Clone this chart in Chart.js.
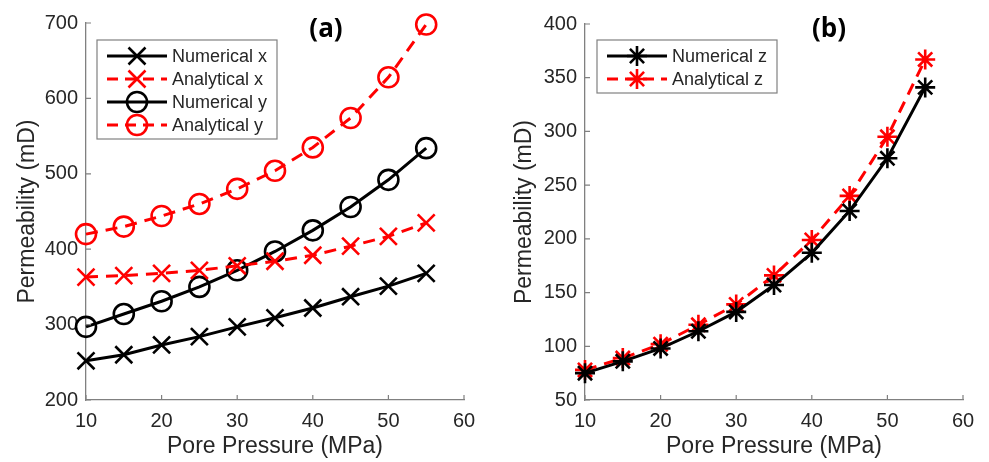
<!DOCTYPE html>
<html>
<head>
<meta charset="utf-8">
<script src="https://cdn.jsdelivr.net/npm/chart.js@4.4.1/dist/chart.umd.min.js"></script>
<style>
  html, body { margin: 0; padding: 0; background: #fff; }
  #wrap { position: relative; width: 989px; height: 462px; }
  #left { position: absolute; left: 0; top: 0; width: 490px; height: 462px; }
  #right { position: absolute; left: 490px; top: 0; width: 499px; height: 462px; }
</style>
</head>
<body>
<div id="wrap">
  <div id="left"><canvas id="chartA"></canvas></div>
  <div id="right"><canvas id="chartB"></canvas></div>
</div>
<script>
// Daten
const pressure = [10, 15, 20, 25, 30, 35, 40, 45, 50, 55];
const numericalX = [252, 260, 273, 284, 297, 309, 322, 337, 351, 368];
const analyticalX = [363, 365, 368, 372, 378, 384, 392, 404, 417, 435];
const numericalY = [297, 314, 331, 350, 372, 397, 425, 456, 492, 534];
const analyticalY = [420, 430, 444, 460, 480, 504, 535, 574, 628, 698];
const numericalZ = [75, 86, 98, 114, 132, 157, 187, 226, 275, 341];
const analyticalZ = [78, 89, 102, 120, 139, 166, 199, 240, 295, 367];

const xTicks = [10, 20, 30, 40, 50, 60];
const yTicksA = [200, 300, 400, 500, 600, 700];
const yTicksB = [50, 100, 150, 200, 250, 300, 350, 400];

const textColor = '#262626';
const axisColor = '#808080';
const fontName = '"Liberation Sans", Arial, Helvetica, sans-serif';

function pts(ys) {
  return pressure.map((p, i) => ({ x: p, y: ys[i] }));
}

function serie(label, ys, color, dashed, style, radius) {
  return {
    label: label,
    data: pts(ys),
    borderColor: color,
    borderWidth: 3,
    borderDash: dashed ? [12, 8] : [],
    pointStyle: style,
    pointRadius: radius,
    pointBorderWidth: 2.6,
    pointBorderColor: color,
    pointBackgroundColor: 'rgba(0,0,0,0)',
    tension: 0,
    fill: false,
    clip: false
  };
}

// Legende + Panel-Beschriftung + Ticks nach innen
const extras = {
  id: 'extras',
  afterDatasetsDraw(chart, args, opts) {
    const ctx = chart.ctx;
    const xs = chart.scales.x, ys = chart.scales.y;
    const area = chart.chartArea;

    // kurze Ticks nach innen
    ctx.save();
    ctx.strokeStyle = axisColor;
    ctx.lineWidth = 1.2;
    ctx.beginPath();
    xs.ticks.forEach(t => {
      const px = xs.getPixelForValue(t.value);
      ctx.moveTo(px, area.bottom);
      ctx.lineTo(px, area.bottom - 5);
    });
    ys.ticks.forEach(t => {
      const py = ys.getPixelForValue(t.value);
      ctx.moveTo(area.left, py);
      ctx.lineTo(area.left + 5, py);
    });
    ctx.stroke();
    ctx.restore();

    // Panel label
    ctx.save();
    ctx.fillStyle = '#000';
    ctx.font = 'bold 26px "Open Sans", "Liberation Sans", sans-serif';
    ctx.textAlign = 'center';
    ctx.textBaseline = 'middle';
    ctx.fillText(opts.panel, opts.panelX, 30);
    ctx.restore();

    // Legende
    const lg = opts.legend;
    ctx.save();
    ctx.fillStyle = '#fff';
    ctx.fillRect(lg.x, lg.y, lg.w, lg.h);
    ctx.strokeStyle = axisColor;
    ctx.lineWidth = 1.2;
    ctx.strokeRect(lg.x, lg.y, lg.w, lg.h);
    chart.data.datasets.forEach((ds, i) => {
      const ry = lg.y + 16 + i * 23;
      const x1 = lg.x + 10, x2 = lg.x + 70;
      ctx.strokeStyle = ds.borderColor;
      ctx.lineWidth = 3;
      ctx.setLineDash(ds.borderDash.length ? [11, 7] : []);
      ctx.beginPath();
      ctx.moveTo(x1, ry);
      ctx.lineTo(x2, ry);
      ctx.stroke();
      ctx.setLineDash([]);
      ctx.lineWidth = 2.6;
      ctx.fillStyle = 'rgba(0,0,0,0)';
      Chart.helpers.drawPoint(ctx, {
        pointStyle: ds.pointStyle,
        radius: ds.pointRadius,
        rotation: 0,
        borderWidth: 2.6
      }, (x1 + x2) / 2, ry);
      ctx.fillStyle = textColor;
      ctx.font = '18px ' + fontName;
      ctx.textAlign = 'left';
      ctx.textBaseline = 'middle';
      ctx.fillText(ds.label, lg.x + 75, ry + 1);
    });
    ctx.restore();
  }
};

function makeOptions(yMin, yMax, yTicks, yWidth, titlePad, padRight, padTop, extraOpts) {
  return {
    responsive: false,
    animation: false,
    layout: { padding: { top: padTop, right: padRight, left: 0, bottom: 0 } },
    plugins: {
      legend: { display: false },
      tooltip: { enabled: false },
      extras: extraOpts
    },
    scales: {
      x: {
        type: 'linear',
        min: 10, max: 60,
        afterBuildTicks: s => { s.ticks = xTicks.map(v => ({ value: v })); },
        afterFit: s => { s.height = 62; },
        grid: { display: true, drawOnChartArea: false, drawTicks: false },
        border: { display: true, color: axisColor, width: 1.3 },
        ticks: { color: textColor, font: { family: fontName, size: 20 }, padding: 9, maxRotation: 0 },
        title: { display: true, text: 'Pore Pressure (MPa)', color: textColor,
                 font: { family: fontName, size: 23 }, padding: { top: 0, bottom: 2 } }
      },
      y: {
        type: 'linear',
        min: yMin, max: yMax,
        afterBuildTicks: s => { s.ticks = yTicks.map(v => ({ value: v })); },
        ticks: { color: textColor, font: { family: fontName, size: 20 }, padding: 8 },
        afterFit: s => { s.width = yWidth; },
        grid: { display: true, drawOnChartArea: false, drawTicks: false },
        border: { display: true, color: axisColor, width: 1.3 },
        title: { display: true, text: 'Permeability (mD)', color: textColor,
                 font: { family: fontName, size: 23 }, padding: { top: titlePad, bottom: 4 } }
      }
    }
  };
}

function setup(id, w, h) {
  const c = document.getElementById(id);
  c.width = w; c.height = h;
  c.style.width = w + 'px'; c.style.height = h + 'px';
  return c;
}

new Chart(setup('chartA', 490, 462), {
  type: 'line',
  data: {
    datasets: [
      serie('Numerical x', numericalX, '#000000', false, 'crossRot', 12),
      serie('Analytical x', analyticalX, '#ff0000', true, 'crossRot', 12),
      serie('Numerical y', numericalY, '#000000', false, 'circle', 10),
      serie('Analytical y', analyticalY, '#ff0000', true, 'circle', 10)
    ]
  },
  options: makeOptions(200, 700, yTicksA, 86, 14, 26, 23, {
    panel: '(a)', panelX: 326,
    legend: { x: 97, y: 40, w: 180, h: 99 }
  }),
  plugins: [extras]
});

new Chart(setup('chartB', 499, 462), {
  type: 'line',
  data: {
    datasets: [
      serie('Numerical z', numericalZ, '#000000', false, 'star', 10),
      serie('Analytical z', analyticalZ, '#ff0000', true, 'star', 10)
    ]
  },
  options: makeOptions(50, 400, yTicksB, 95, 21, 26, 24, {
    panel: '(b)', panelX: 339,
    legend: { x: 107, y: 40, w: 180, h: 53 }
  }),
  plugins: [extras]
});
</script>
</body>
</html>
